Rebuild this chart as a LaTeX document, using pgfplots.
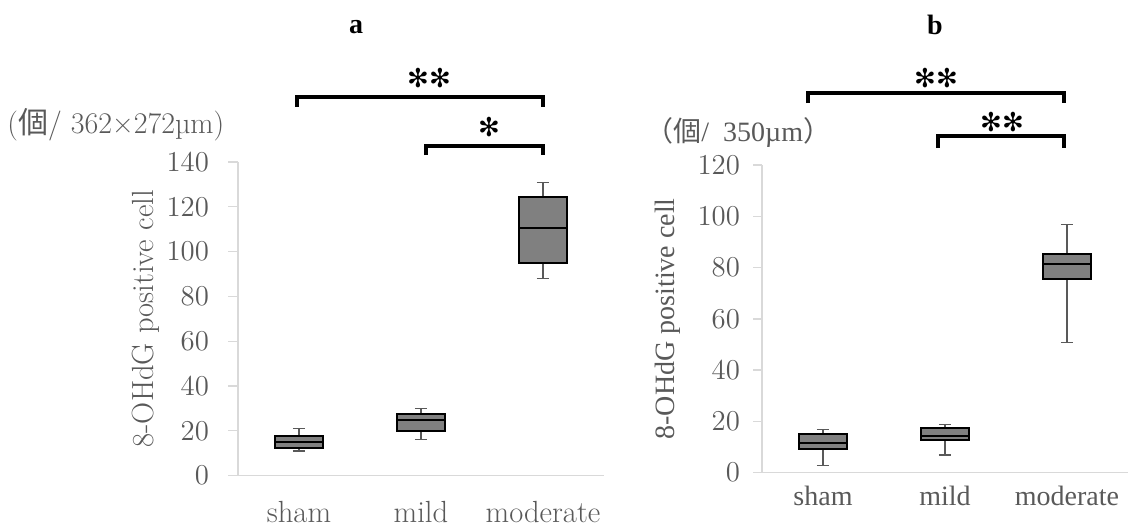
\documentclass[border=0pt]{standalone}
\usepackage{fontspec}
\usepackage{pgfplots}
\pgfplotsset{compat=1.18}
\newfontfamily\cjk{Noto Sans CJK JP}
\newfontfamily\timesf{Liberation Serif}
\newfontfamily\djv{DejaVu Sans}
\definecolor{axgray}{HTML}{D9D9D9}
\definecolor{txtgray}{HTML}{595959}
\definecolor{boxgray}{HTML}{808080}
\pgfplotsset{
  mybase/.style={
    scale only axis, width=183pt,
    xmin=-0.5, xmax=2.5, ymin=0,
    axis x line=bottom, axis y line=left,
    axis line style={axgray, line width=0.65pt, -},
    xtick={0,1,2}, xticklabels={sham,mild,moderate},
    x tick style={draw=none},
    y tick style={axgray, line width=0.65pt},
    tick align=outside, major tick length=5pt,
    tick label style={txtgray},
    ylabel={8-OHdG positive cell},
    ylabel style={txtgray, anchor=center},
    clip=false,
    unbounded coords=jump,
  },
  whisk/.style={draw=txtgray, line width=0.65pt, mark=none},
  box/.style={draw=black, fill=boxgray, line width=1pt, mark=none},
  med/.style={draw=black, line width=1pt, mark=none},
}
\begin{document}
\begin{tikzpicture}
\path[use as bounding box] (0,0) rectangle (564pt,263pt);
% Panel a
\begin{axis}[mybase, at={(119pt,25.25pt)}, anchor=south west,
  height=156.75pt, ymax=140, ytick={0,20,...,140},
  font=\fontsize{15.3}{18}\selectfont,
  yticklabel style={xshift=-6pt},
  ylabel style={at={(axis description cs:-0.251,0.5)}},
  xticklabel style={anchor=base, yshift=-18.5pt},
]
% whiskers: sham, mild, moderate
\addplot[whisk] coordinates {
 (0,10.9) (0,21) (nan,nan) (-0.05,10.9) (0.05,10.9) (nan,nan) (-0.05,21) (0.05,21) (nan,nan)
 (1,16.2) (1,30) (nan,nan) (0.95,16.2) (1.05,16.2) (nan,nan) (0.95,30) (1.05,30) (nan,nan)
 (2,88) (2,131) (nan,nan) (1.95,88) (2.05,88) (nan,nan) (1.95,131) (2.05,131)};
% boxes (quartiles)
\addplot[box] coordinates {(-0.2,12.1) (0.2,12.1) (0.2,17.6) (-0.2,17.6)} --cycle;
\addplot[box] coordinates {(0.8,20) (1.2,20) (1.2,27.5) (0.8,27.5)} --cycle;
\addplot[box] coordinates {(1.8,95) (2.2,95) (2.2,124.5) (1.8,124.5)} --cycle;
% medians
\addplot[med] coordinates {(-0.2,15) (0.2,15) (nan,nan) (0.8,24.6) (1.2,24.6) (nan,nan) (1.8,110.5) (2.2,110.5)};
\end{axis}
% Panel b
\begin{axis}[mybase, at={(381pt,26.65pt)}, anchor=south west,
  height=153.85pt, ymax=120, ytick={0,20,...,120},
  major tick length=4.5pt,
  font=\timesf\fontsize{14}{16}\selectfont,
  yticklabel style={xshift=-3pt},
  ylabel style={at={(axis description cs:-0.257,0.5)}},
  xticklabel style={anchor=base, yshift=-12pt},
]
\addplot[whisk] coordinates {
 (0,2.9) (0,16.9) (nan,nan) (-0.05,2.9) (0.05,2.9) (nan,nan) (-0.05,16.9) (0.05,16.9) (nan,nan)
 (1,6.9) (1,18.7) (nan,nan) (0.95,6.9) (1.05,6.9) (nan,nan) (0.95,18.7) (1.05,18.7) (nan,nan)
 (2,50.9) (2,96.9) (nan,nan) (1.95,50.9) (2.05,50.9) (nan,nan) (1.95,96.9) (2.05,96.9)};
\addplot[box] coordinates {(-0.2,9.4) (0.2,9.4) (0.2,15) (-0.2,15)} --cycle;
\addplot[box] coordinates {(0.8,12.9) (1.2,12.9) (1.2,17.6) (0.8,17.6)} --cycle;
\addplot[box] coordinates {(1.8,75.5) (2.2,75.5) (2.2,85.2) (1.8,85.2)} --cycle;
\addplot[med] coordinates {(-0.2,11.5) (0.2,11.5) (nan,nan) (0.8,14.4) (1.2,14.4) (nan,nan) (1.8,81.5) (2.2,81.5)};
\end{axis}
% units
\node[anchor=west, text=txtgray, inner sep=0pt, font=\fontsize{15}{17}\selectfont] at (3.5pt,200.5pt) {({\cjk 個}/ 362×272µm)};
\node[anchor=west, text=txtgray, inner sep=0pt, font=\timesf\fontsize{14}{16}\selectfont] at (322.5pt,197pt) {{\cjk （個}/\ \ 350µm{\cjk ）}};
% titles
\node[font=\timesf\bfseries\fontsize{14}{16}\selectfont] at (178pt,249.5pt) {a};
\node[font=\timesf\bfseries\fontsize{14}{16}\selectfont] at (467.5pt,250.5pt) {b};
% significance brackets
\draw[line width=2pt] (148.5pt,209.65pt)--(148.5pt,214.65pt)--(271.5pt,214.65pt)--(271.5pt,209.65pt);
\draw[line width=2pt] (213pt,185.5pt)--(213pt,190.15pt)--(271.5pt,190.15pt)--(271.5pt,185.5pt);
\draw[line width=2pt] (404pt,211.5pt)--(404pt,216.5pt)--(532pt,216.5pt)--(532pt,211.5pt);
\draw[line width=2pt] (469pt,189pt)--(469pt,195pt)--(532pt,195pt)--(532pt,189pt);
\node[font=\djv\fontsize{13}{15}\selectfont] at (214.5pt,224pt) {✻✻};
\node[font=\djv\fontsize{13}{15}\selectfont] at (244.5pt,199.5pt) {✻};
\node[font=\djv\fontsize{13}{15}\selectfont] at (468pt,224pt) {✻✻};
\node[font=\djv\fontsize{13}{15}\selectfont] at (501pt,202pt) {✻✻};
\end{tikzpicture}
\end{document}
